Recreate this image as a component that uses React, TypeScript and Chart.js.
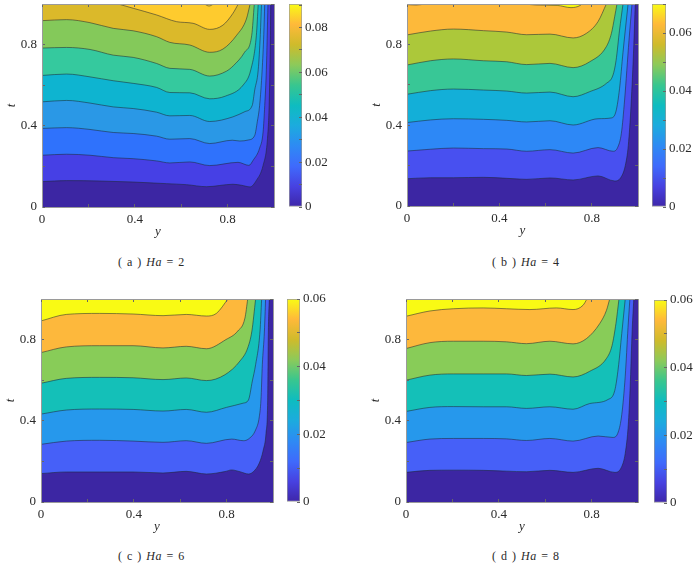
import React, { useEffect, useRef } from 'react';
import { Chart, registerables } from 'chart.js';

Chart.register(...registerables);

const SERIF = '"Liberation Serif", "Times New Roman", serif';
const INK = '#2a2a2a';

// each contour is a list of [y, t] pairs
const floorLine = [[0, 0], [1, 0]];

const contourA1 = [[0, .125], [.106, .13], [.25, .128], [.393, .123], [.537, .115], [.623, .11], [.709, .1], [.823, .112], [.86, .107], [.897, .099], [.924, .131], [.953, .205], [.972, .338], [.979, .5], [.984, .8], [.986, 1]];
const contourA2 = [[0, .255], [.106, .26], [.207, .255], [.307, .243], [.393, .238], [.494, .227], [.551, .217], [.637, .222], [.723, .204], [.845, .22], [.892, .205], [.91, .23], [.938, .29], [.953, .37], [.96, .5], [.967, .676], [.974, 1]];
const contourA3 = [[0, .387], [.106, .391], [.207, .382], [.307, .367], [.393, .362], [.494, .349], [.551, .334], [.637, .337], [.723, .3125], [.82, .329], [.853, .325], [.889, .33], [.917, .353], [.928, .42], [.938, .5], [.949, .676], [.956, .85], [.96, 1]];
const contourA4 = [[0, .518], [.106, .525], [.207, .512], [.307, .493], [.393, .485], [.494, .467], [.551, .449], [.637, .451], [.723, .421], [.823, .444], [.875, .47], [.906, .5], [.917, .577], [.932, .676], [.941, .85], [.946, 1]];
const contourA5 = [[0, .648], [.106, .655], [.207, .641], [.307, .622], [.393, .609], [.494, .589], [.551, .564], [.637, .5625], [.723, .533], [.79, .546], [.868, .602], [.9, .676], [.924, .846], [.932, 1]];
const contourA6 = [[0, .783], [.106, .786], [.207, .776], [.307, .748], [.393, .737], [.494, .707], [.551, .683], [.637, .678], [.723, .645], [.795, .669], [.824, .695], [.873, .762], [.904, .846], [.915, 1]];
const contourA7 = [[0, .918], [.106, .923], [.207, .908], [.307, .88], [.393, .868], [.494, .839], [.551, .811], [.637, .798], [.723, .762], [.78, .778], [.839, .846], [.881, .926], [.897, 1]];
const contourA8 = [[.329, 1], [.393, .979], [.494, .946], [.58, .913], [.651, .905], [.723, .875], [.78, .896], [.823, .954], [.846, 1]];
const contourA9 = [[.7, 1], [.72, .99], [.74, 1]];

const contourB1 = [[0, .135], [.101, .14], [.201, .14], [.331, .142], [.432, .137], [.518, .132], [.619, .139], [.719, .129], [.827, .149], [.899, .124], [.925, .14], [.945, .2], [.958, .3], [.97, .5], [.982, .8], [.988, 1]];
const contourB2 = [[0, .272], [.101, .281], [.201, .287], [.331, .284], [.432, .282], [.518, .271], [.619, .279], [.719, .262], [.827, .289], [.892, .271], [.912, .29], [.928, .36], [.942, .525], [.961, .82], [.974, 1]];
const contourB3 = [[0, .413], [.101, .426], [.201, .432], [.331, .429], [.432, .424], [.518, .416], [.619, .422], [.719, .401], [.827, .432], [.885, .436], [.905, .47], [.92, .58], [.935, .76], [.957, 1]];
const contourB4 = [[0, .553], [.101, .571], [.201, .579], [.331, .574], [.432, .569], [.518, .559], [.619, .564], [.719, .541], [.791, .566], [.863, .607], [.892, .649], [.905, .72], [.92, .87], [.935, 1]];
const contourB5 = [[0, .698], [.101, .719], [.201, .728], [.331, .719], [.432, .714], [.518, .7], [.619, .706], [.719, .685], [.791, .714], [.863, .789], [.885, .855], [.899, .937], [.909, 1]];
const contourB6 = [[0, .847], [.101, .866], [.201, .876], [.331, .868], [.432, .861], [.518, .848], [.619, .851], [.719, .832], [.777, .855], [.827, .913], [.863, 1]];
const contourB7 = [[.51, 1], [.56, .995], [.65, .993], [.71, .982], [.75, .993], [.757, 1]];
const contourB8 = [[0, .997], [.04, .995], [.08, 1]];

const contourC1 = [[0, .14], [.109, .148], [.253, .148], [.397, .148], [.526, .143], [.626, .151], [.713, .138], [.793, .15], [.822, .158], [.858, .149], [.894, .138], [.915, .149], [.941, .192], [.958, .256], [.97, .34], [.977, .502], [.98, .842], [.984, 1]];
const contourC2 = [[0, .284], [.109, .3], [.253, .304], [.397, .3], [.526, .294], [.626, .302], [.713, .289], [.822, .31], [.872, .302], [.894, .31], [.925, .355], [.941, .42], [.948, .502], [.954, .676], [.963, .842], [.968, 1]];
const contourC3 = [[0, .433], [.109, .453], [.253, .458], [.397, .456], [.526, .448], [.626, .456], [.713, .442], [.799, .466], [.872, .487], [.894, .502], [.911, .596], [.925, .676], [.944, .842], [.951, 1]];
const contourC4 = [[0, .585], [.109, .609], [.253, .614], [.397, .612], [.526, .603], [.626, .611], [.713, .598], [.793, .627], [.858, .695], [.891, .759], [.909, .842], [.925, 1]];
const contourC5 = [[0, .736], [.109, .764], [.253, .77], [.397, .77], [.526, .759], [.626, .767], [.713, .755], [.797, .8], [.848, .842], [.879, .906], [.891, 1]];
const contourC6 = [[0, .892], [.109, .924], [.253, .929], [.397, .926], [.526, .918], [.626, .924], [.713, .916], [.756, .929], [.806, 1]];

const contourD1 = [[0, .146], [.103, .156], [.204, .157], [.333, .156], [.433, .152], [.519, .149], [.62, .156], [.72, .146], [.828, .166], [.9, .146], [.928, .17], [.945, .24], [.958, .38], [.966, .56], [.975, .85], [.982, 1]];
const contourD2 = [[0, .293], [.103, .31], [.204, .313], [.333, .313], [.433, .311], [.519, .303], [.62, .313], [.72, .3], [.828, .325], [.892, .318], [.915, .345], [.93, .43], [.945, .62], [.957, .86], [.965, 1]];
const contourD3 = [[0, .446], [.103, .466], [.204, .47], [.333, .469], [.433, .469], [.519, .461], [.62, .469], [.72, .457], [.792, .485], [.871, .505], [.9, .55], [.915, .66], [.93, .83], [.945, 1]];
const contourD4 = [[0, .6], [.103, .625], [.204, .631], [.333, .631], [.433, .631], [.519, .623], [.62, .63], [.72, .616], [.792, .644], [.864, .707], [.888, .77], [.905, .88], [.918, 1]];
const contourD5 = [[0, .756], [.103, .785], [.204, .792], [.333, .792], [.433, .789], [.519, .78], [.62, .792], [.72, .779], [.778, .805], [.835, .879], [.864, .944], [.878, 1]];
const contourD6 = [[0, .915], [.103, .941], [.204, .952], [.333, .956], [.433, .952], [.534, .948], [.648, .956], [.72, .948], [.763, .969], [.78, 1]];

const bandsA = ['#3c26a3', '#4640e5', '#2f72fc', '#2a98e6', '#0eb4d0', '#35c99e', '#84c95a', '#dbb92a', '#fecb2e', '#ffd531'];
const bandsB = ['#3c26a3', '#4850f0', '#2d88f6', '#13afd8', '#38c796', '#acc83a', '#fdb93a', '#f8f80f', '#f8f80f'];
const bandsCD = ['#3c26a3', '#4660f8', '#2698ec', '#14c0b8', '#88cc58', '#fdb83c', '#f9fa14'];

const axisTickLabels = ['0', '', '0.4', '', '0.8', ''];
const barLabels9 = ['0', '', '0.02', '', '0.04', '', '0.06', '', '0.08', ''];
const barLabels7 = ['0', '', '0.02', '', '0.04', '', '0.06', ''];
const barLabels6 = ['0', '', '0.02', '', '0.04', '', '0.06'];

const barStops = ['#3e26a8', '#4741e0', '#3f6afc', '#2e8af4', '#1cabde', '#0ebcc0', '#38c68f', '#8cca5a', '#cfbb2b', '#ffb93a', '#f9fb15'];

const panels = [
  { ha: 'a', value: '2', contours: [contourA1, contourA2, contourA3, contourA4, contourA5, contourA6, contourA7, contourA8, contourA9], bands: bandsA, l: 42, r: 274, t: 4, b: 207, barL: 289, barR: 302, barT: 4, barB: 207, barMax: 0.0905, barLabels: barLabels9, capL: 118, capY: 262 },
  { ha: 'b', value: '4', contours: [contourB1, contourB2, contourB3, contourB4, contourB5, contourB6, contourB7, contourB8], bands: bandsB, l: 407, r: 638, t: 4, b: 206, barL: 652, barR: 666, barT: 4, barB: 207, barMax: 0.07, barLabels: barLabels7, capL: 492, capY: 262 },
  { ha: 'c', value: '6', contours: [contourC1, contourC2, contourC3, contourC4, contourC5, contourC6], bands: bandsCD, l: 41, r: 273, t: 299, b: 502, barL: 287, barR: 300, barT: 299, barB: 502, barMax: 0.06, barLabels: barLabels6, capL: 118, capY: 556 },
  { ha: 'd', value: '8', contours: [contourD1, contourD2, contourD3, contourD4, contourD5, contourD6], bands: bandsCD, l: 406, r: 638, t: 299, b: 502, barL: 654, barR: 667, barT: 300, barB: 503, barMax: 0.06, barLabels: barLabels6, capL: 492, capY: 556 },
];

type Panel = (typeof panels)[number];

const LEFT = 42;
const PAD = 24;
const RIGHT = 10;
const BELOW = 32;
const BAR_RIGHT = 32;

const tickFont = { family: SERIF, size: 13 };
const titleFont = { family: SERIF, size: 13, style: 'italic' as const };

const frame = (size: number, side: 'width' | 'height') => (scale: any) => {
  scale[side] = size;
};

const ContourPanel: React.FC<{ panel: Panel }> = ({ panel }) => {
  const plotRef = useRef<HTMLCanvasElement>(null);
  const barRef = useRef<HTMLCanvasElement>(null);

  useEffect(() => {
    if (!plotRef.current || !barRef.current) return;

    const lines = [floorLine, ...panel.contours];
    const gridOpts = { drawOnChartArea: false, tickLength: -3, tickColor: '#666', z: 1 };
    const borderOpts = { color: '#9a9a9a', width: 1, z: 1 };

    const plot = new Chart(plotRef.current, {
      type: 'scatter',
      data: {
        datasets: lines.map((line, i) => ({
          data: line.map(([x, y]) => ({ x, y })),
          showLine: true,
          fill: 'end',
          backgroundColor: panel.bands[i],
          borderColor: 'rgba(30,40,50,0.6)',
          borderWidth: i === 0 ? 0 : 0.9,
          cubicInterpolationMode: 'monotone',
          pointRadius: 0,
          order: lines.length - i,
        })),
      },
      options: {
        animation: false,
        responsive: false,
        layout: { padding: { top: PAD, right: RIGHT, left: 0, bottom: 0 } },
        plugins: { legend: { display: false }, tooltip: { enabled: false } },
        scales: {
          x: {
            type: 'linear',
            min: 0,
            max: 1,
            ticks: {
              stepSize: 0.2,
              padding: 8,
              color: INK,
              font: tickFont,
              maxRotation: 0,
              callback: (_v, i) => axisTickLabels[i],
            },
            grid: gridOpts,
            border: borderOpts,
            title: { display: true, text: 'y', color: INK, font: titleFont, padding: 0 },
            afterFit: frame(BELOW, 'height'),
          },
          y: {
            type: 'linear',
            min: 0,
            max: 1,
            ticks: {
              stepSize: 0.2,
              padding: 8,
              color: INK,
              font: tickFont,
              callback: (_v, i) => axisTickLabels[i],
            },
            grid: gridOpts,
            border: borderOpts,
            title: { display: true, text: 't', color: INK, font: titleFont, padding: 4 },
            afterFit: frame(LEFT, 'width'),
          },
          xTop: {
            type: 'linear',
            position: 'top',
            min: 0,
            max: 1,
            ticks: { stepSize: 0.2, display: false },
            grid: gridOpts,
            border: borderOpts,
            afterFit: frame(0, 'height'),
          },
          yRight: {
            type: 'linear',
            position: 'right',
            min: 0,
            max: 1,
            ticks: { stepSize: 0.2, display: false },
            grid: gridOpts,
            border: borderOpts,
            afterFit: frame(0, 'width'),
          },
        },
      },
    } as any);

    const bar = new Chart(barRef.current, {
      type: 'bar',
      data: {
        labels: ['scale'],
        datasets: [
          {
            data: [[0, panel.barMax]],
            barPercentage: 1,
            categoryPercentage: 1,
            borderColor: '#9a9a9a',
            borderWidth: 1,
            borderSkipped: false,
            backgroundColor: (ctx: any) => {
              const area = ctx.chart.chartArea;
              if (!area) return barStops[0];
              const g = ctx.chart.ctx.createLinearGradient(0, area.bottom, 0, area.top);
              barStops.forEach((c, i) => g.addColorStop(i / (barStops.length - 1), c));
              return g;
            },
          },
        ],
      },
      options: {
        animation: false,
        responsive: false,
        layout: { padding: { top: PAD, bottom: PAD, left: 1, right: 0 } },
        plugins: { legend: { display: false }, tooltip: { enabled: false } },
        scales: {
          x: { display: false },
          y: {
            position: 'right',
            min: 0,
            max: panel.barMax,
            ticks: {
              stepSize: 0.01,
              includeBounds: false,
              padding: 6,
              color: INK,
              font: tickFont,
              callback: (_v, i) => panel.barLabels[i],
            },
            grid: { drawOnChartArea: false, tickLength: -3, tickColor: '#666', z: 1 },
            border: { display: false },
            afterFit: frame(BAR_RIGHT, 'width'),
          },
        },
      },
    } as any);

    return () => {
      plot.destroy();
      bar.destroy();
    };
  }, [panel]);

  const plotW = panel.r - panel.l + LEFT + RIGHT;
  const plotH = panel.b - panel.t + PAD + BELOW;
  const barW = panel.barR - panel.barL + BAR_RIGHT + 1;
  const barH = panel.barB - panel.barT + PAD * 2;

  return (
    <>
      <canvas
        ref={plotRef}
        width={plotW}
        height={plotH}
        style={{ position: 'absolute', left: panel.l - LEFT, top: panel.t - PAD, width: plotW, height: plotH }}
      />
      <canvas
        ref={barRef}
        width={barW}
        height={barH}
        style={{ position: 'absolute', left: panel.barL - 1, top: panel.barT - PAD, width: barW, height: barH }}
      />
      <div
        style={{
          position: 'absolute',
          left: panel.capL,
          top: panel.capY - 7,
          fontFamily: SERIF,
          fontSize: 12,
          lineHeight: '14px',
          color: INK,
          whiteSpace: 'pre',
          letterSpacing: 0.5,
          wordSpacing: 1,
        }}
      >
        ( {panel.ha} ) <i>Ha</i> = {panel.value}
      </div>
    </>
  );
};

const App: React.FC = () => (
  <div style={{ position: 'absolute', left: 0, top: 0, width: 700, height: 565, overflow: 'hidden', background: '#fff' }}>
    {panels.map(p => (
      <ContourPanel key={p.ha} panel={p} />
    ))}
  </div>
);

export default App;
